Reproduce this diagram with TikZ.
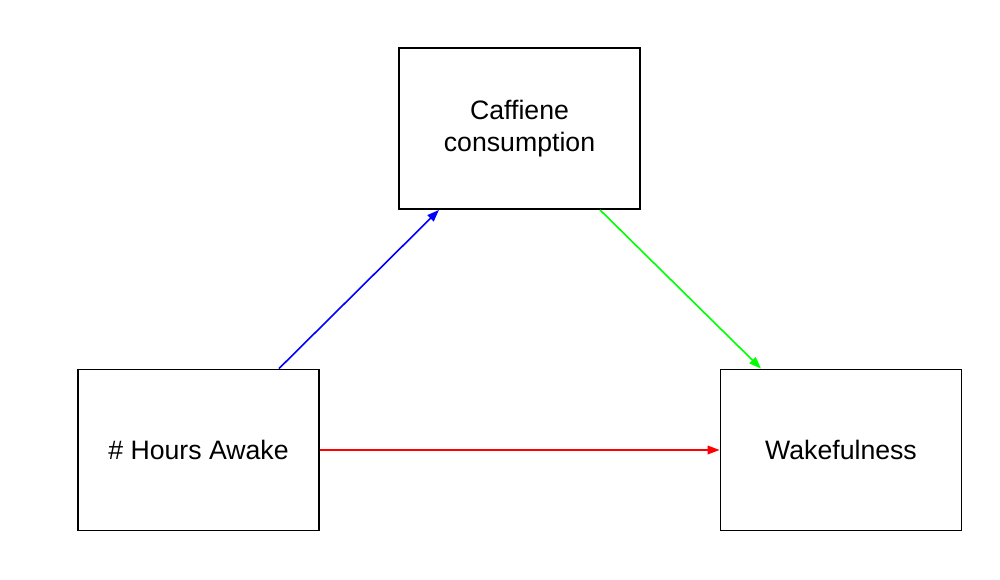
\documentclass[tikz,border=0pt]{standalone}
\usepackage{fontspec}
\setmainfont{Liberation Sans}
\usetikzlibrary{arrows.meta,calc}
\begin{document}
\begin{tikzpicture}[x=0.75pt,y=-0.75pt,
  box/.style={draw=black,line width=1.4pt,minimum width=180.75pt,minimum height=120.75pt,inner sep=0pt,align=center,font=\fontsize{20}{24}\selectfont},
  conn/.style={line width=1.2pt,-{Triangle[length=9pt,width=6.5pt]}}]
\useasboundingbox (0,0) rectangle (1000,580);
\node[box] (caf) at (519.5,128.5) {Caffiene\\consumption};
\node[box] (hrs) at (198.5,450) {\# Hours Awake};
\node[box] (wak) at (841,450) {Wakefulness};
\coordinate (b0) at ($(hrs.north)+(80.5,0)$);
\coordinate (b1) at ($(caf.south)+(-80.5,0)$);
\coordinate (g0) at ($(caf.south)+(80.5,0)$);
\coordinate (g1) at ($(wak.north)+(-80,0)$);
\draw[conn,blue] (b0) -- (b1);
\draw[conn,green] (g0) -- (g1);
\draw[conn,red] (hrs.east) -- (wak.west);
\end{tikzpicture}
\end{document}
